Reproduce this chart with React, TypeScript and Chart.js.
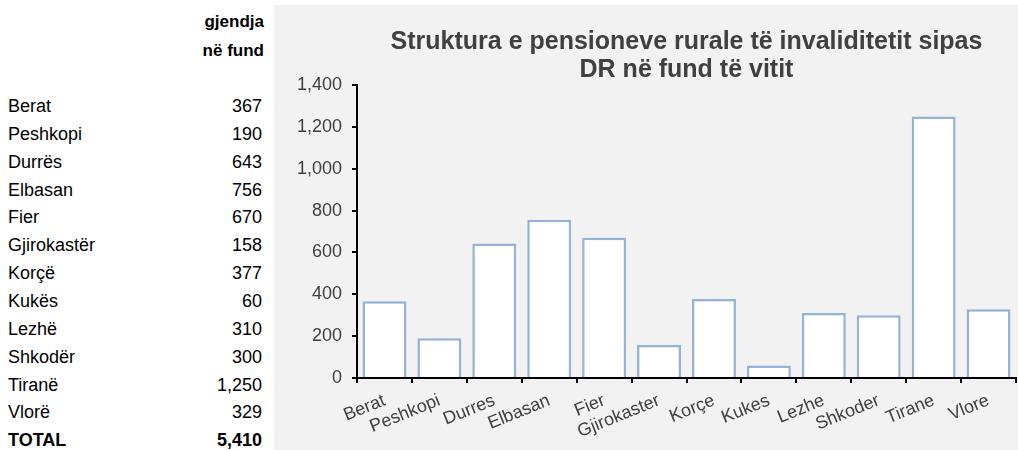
import React, { useEffect, useRef } from "react";
import { Chart, registerables } from "chart.js";

Chart.register(...registerables);

const tableNames = ["Berat", "Peshkopi", "Durrës", "Elbasan", "Fier", "Gjirokastër", "Korçë", "Kukës", "Lezhë", "Shkodër", "Tiranë", "Vlorë"];
const chartLabels = ["Berat", "Peshkopi", "Durres", "Elbasan", "Fier", "Gjirokaster", "Korçe", "Kukes", "Lezhe", "Shkoder", "Tirane", "Vlore"];
const values = [367, 190, 643, 756, 670, 158, 377, 60, 310, 300, 1250, 329];
const totalLabel = "TOTAL";
const totalValue = 5410;
const headerLines = ["gjendja", "në fund"];
const titleLines = ["Struktura e pensioneve rurale të invaliditetit sipas", "DR në fund të vitit"];
const yTicks = { min: 0, max: 1400, step: 200 };

const FONT = "'Liberation Sans', Arial, sans-serif";
const fmt = (v: number) => v.toLocaleString("en-US");

const titlePlugin = {
  id: "customTitle",
  afterDraw(chart: any) {
    const { ctx, chartArea } = chart;
    const cx = (chartArea.left + chartArea.right) / 2;
    ctx.save();
    ctx.font = `bold 25px ${FONT}`;
    ctx.fillStyle = "#404040";
    ctx.textAlign = "center";
    ctx.textBaseline = "middle";
    titleLines.forEach((t, i) => ctx.fillText(t, cx, 37 + i * 28));
    ctx.restore();
  },
};

function BarChart() {
  const ref = useRef<HTMLCanvasElement>(null);
  useEffect(() => {
    if (!ref.current) return;
    const chart = new Chart(ref.current, {
      type: "bar",
      data: {
        labels: chartLabels,
        datasets: [
          {
            data: values,
            backgroundColor: "#ffffff",
            borderColor: "#95b3d7",
            borderWidth: 2.5,
            barPercentage: 0.8,
            categoryPercentage: 1,
          },
        ],
      },
      options: {
        animation: false,
        responsive: false,
        maintainAspectRatio: false,
        layout: { padding: { top: 80, right: 2, left: 0, bottom: 0 } },
        plugins: { legend: { display: false }, tooltip: { enabled: false }, title: { display: false } },
        scales: {
          x: {
            offset: true,
            grid: { display: true, offset: true, drawOnChartArea: false, tickLength: 5, color: "#000000", lineWidth: 2 },
            border: { display: true, color: "#000000", width: 2 },
            ticks: {
              color: "#404040",
              font: { family: FONT, size: 18 },
              minRotation: 22,
              maxRotation: 22,
              autoSkip: false,
              padding: 7,
            },
            afterFit: (s: any) => {
              s.height = 72;
            },
          },
          y: {
            min: yTicks.min,
            max: yTicks.max,
            grid: { display: true, drawOnChartArea: false, tickLength: 5, color: "#000000", lineWidth: 2 },
            border: { display: true, color: "#000000", width: 2 },
            ticks: {
              stepSize: yTicks.step,
              color: "#404040",
              font: { family: FONT, size: 18 },
              padding: 10,
              callback: (v: any) => fmt(Number(v)),
            },
            afterFit: (s: any) => {
              s.width = 83;
            },
          },
        },
      },
      plugins: [titlePlugin],
    });
    return () => chart.destroy();
  }, []);
  return <canvas ref={ref} width={744} height={445} style={{ display: "block", width: 744, height: 445 }} />;
}

export default function App() {
  const rowTop = (i: number) => 106 + i * 27.85 - 14;
  const rows = [...tableNames.map((n, i) => ({ name: n, val: fmt(values[i]), bold: false })), { name: totalLabel, val: fmt(totalValue), bold: true }];
  return (
    <div style={{ position: "absolute", left: 0, top: 0, width: 1018, height: 450, overflow: "hidden", background: "#ffffff", fontFamily: FONT }}>
      {headerLines.map((h, i) => (
        <div key={h} style={{ position: "absolute", right: 1018 - 264, top: 22 + i * 29 - 12, height: 24, lineHeight: "24px", fontSize: 17, fontWeight: "bold", color: "#000" }}>
          {h}
        </div>
      ))}
      {rows.map((r, i) => (
        <React.Fragment key={r.name}>
          <div style={{ position: "absolute", left: 8, top: rowTop(i), height: 28, lineHeight: "28px", fontSize: 18, fontWeight: r.bold ? "bold" : "normal", color: "#000" }}>{r.name}</div>
          <div style={{ position: "absolute", right: 1018 - 262, top: rowTop(i), height: 28, lineHeight: "28px", fontSize: 18, fontWeight: r.bold ? "bold" : "normal", color: "#000" }}>{r.val}</div>
        </React.Fragment>
      ))}
      <div style={{ position: "absolute", left: 274, top: 5, width: 744, height: 445, background: "#f2f2f2" }}>
        <BarChart />
      </div>
    </div>
  );
}
